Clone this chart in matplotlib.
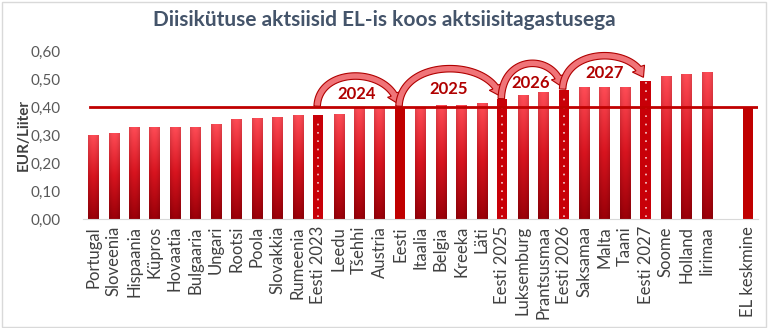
import numpy as np
import matplotlib
matplotlib.use("Agg")
import matplotlib.pyplot as plt
from matplotlib.patches import Polygon, Rectangle
from matplotlib.colors import LinearSegmentedColormap

plt.rcParams['font.family'] = ['Lato', 'DejaVu Sans']

countries = ["Portugal", "Sloveenia", "Hispaania", "Küpros", "Hovaatia", "Bulgaaria",
             "Ungari", "Rootsi", "Poola", "Slovakkia", "Rumeenia", "Eesti 2023",
             "Leedu", "Tšehhi", "Austria", "Eesti", "Itaalia", "Belgia", "Kreeka",
             "Läti", "Eesti 2025", "Luksemburg", "Prantsusmaa", "Eesti 2026",
             "Saksamaa", "Malta", "Taani", "Eesti 2027", "Soome", "Holland",
             "Iirimaa", "", "EL keskmine"]
values = [0.301, 0.307, 0.329, 0.329, 0.329, 0.330, 0.339, 0.358, 0.361, 0.366,
          0.370, 0.372, 0.374, 0.398, 0.398, 0.400, 0.400, 0.406, 0.409, 0.414,
          0.427, 0.442, 0.454, 0.461, 0.470, 0.473, 0.473, 0.494, 0.509, 0.519,
          0.526, np.nan, 0.397]
eu_average = 0.40

# Estonian rate steps: (from bar, to bar, label)
steps = [("Eesti 2023", "Eesti", "2024"),
         ("Eesti", "Eesti 2025", "2025"),
         ("Eesti 2025", "Eesti 2026", "2026"),
         ("Eesti 2026", "Eesti 2027", "2027")]
dotted = {"Eesti 2023", "Eesti 2025", "Eesti 2026", "Eesti 2027"}
solid = {"Eesti", "EL keskmine"}

fig = plt.figure(figsize=(7.68, 3.28), dpi=100)
ax = fig.add_axes([0.108, 0.332, 0.879, 0.5125])
ax.set_xlim(-0.5, len(countries) - 0.5)
ax.set_ylim(0, 0.6)

x = np.arange(len(countries))
width = 0.5
grad = LinearSegmentedColormap.from_list("bar", ["#9a0008", "#d8141f", "#ff4d57"])
gimg = np.linspace(0, 1, 256).reshape(-1, 1)
hshade = 1 - 0.12 * np.abs(np.linspace(-1, 1, 16)) ** 2

bars = ax.bar(x, values, width=width, color="none", edgecolor="none", zorder=2)
for xi, name, v, b in zip(x, countries, values, bars):
    if np.isnan(v):
        continue
    if name in dotted or name in solid:
        b.set_facecolor("#c80008" if name in dotted else "#c00000")
        if name in dotted:
            ax.plot([xi, xi], [0.008, v - 0.006], color="white", lw=1.2,
                    ls=(0, (1, 4)), alpha=0.8, zorder=3)
    else:
        rgb = grad(gimg)[:, 0, :3]
        img = rgb[:, None, :] * hshade[None, :, None]
        im = ax.imshow(img, origin="lower", aspect="auto",
                       extent=(xi - width / 2, xi + width / 2, 0, v), zorder=2,
                       interpolation="bilinear")
        im.set_clip_path(b)

ax.axhline(eu_average, xmin=0.01, xmax=1.0, color="#c00000", lw=2, zorder=4)


def curved_arrow(ax, p0, p3, top, tail_w=6.5, head_w=14, head_l=10, **kw):
    """Block arrow along a cubic arch from p0 to p3 (data coords)."""
    T = ax.transData
    (x0, y0), (x3, y3) = p0, p3
    dx = x3 - x0
    ctrl = np.array([[x0, y0], [x0 + 0.02 * dx, top], [x3 - 0.12 * dx, top], [x3, y3]])
    P = T.transform(ctrl)
    t = np.linspace(0, 1, 300)[:, None]
    B = ((1 - t) ** 3) * P[0] + 3 * (1 - t) ** 2 * t * P[1] \
        + 3 * (1 - t) * t ** 2 * P[2] + t ** 3 * P[3]
    seg = np.hypot(*np.diff(B, axis=0).T)
    s = np.concatenate([[0], np.cumsum(seg)])
    C = B[s <= s[-1] - head_l]
    d = np.gradient(C, axis=0)
    d /= np.hypot(d[:, 0], d[:, 1])[:, None]
    n = np.stack([-d[:, 1], d[:, 0]], axis=1)
    left, right = C + n * tail_w / 2, C - n * tail_w / 2
    tip = B[-1]
    u = (tip - C[-1]) / np.hypot(*(tip - C[-1]))
    nb = np.array([-u[1], u[0]])
    head = np.array([C[-1] + nb * head_w / 2, tip, C[-1] - nb * head_w / 2])
    poly = np.vstack([left, head, right[::-1]])
    ax.add_patch(Polygon(T.inverted().transform(poly), closed=True,
                         clip_on=False, **kw))


idx = {n: i for i, n in enumerate(countries)}
arc_top = {"2024": 0.545, "2025": 0.575, "2026": 0.59, "2027": 0.615}
label_pos = {"2024": (12.9, 0.447), "2025": (17.4, 0.463),
             "2026": (21.4, 0.487), "2027": (25.0, 0.522)}
for a, bname, lab in steps:
    i0, i1 = idx[a], idx[bname]
    y0 = max(values[i0], eu_average) + 0.003
    y1 = values[i1] + 0.012
    curved_arrow(ax, (i0 - 0.05, y0), (i1 - 0.1, y1), arc_top[lab],
                 facecolor="#f07478", edgecolor="#b00000", lw=0.8, zorder=6)
    lx, ly = label_pos[lab]
    ax.text(lx, ly, lab, ha="center", va="center", fontsize=12,
            fontweight="bold", color="#b00000", zorder=7)

ax.set_yticks(np.arange(0, 0.61, 0.1))
ax.set_yticklabels([f"{t:.2f}".replace(".", ",") for t in np.arange(0, 0.61, 0.1)],
                   fontsize=11, color="#595959")
ax.set_xticks(x)
ax.set_xticklabels(countries, rotation=90, fontsize=12, color="#404040")
ax.tick_params(axis="x", length=0, pad=5)
ax.tick_params(axis="y", length=0, pad=16)
for s in ["top", "right", "left"]:
    ax.spines[s].set_visible(False)
ax.spines["bottom"].set_color("#d9d9d9")
ax.set_ylabel("EUR/Liiter", fontsize=11, fontweight="bold", color="#404040")
ax.yaxis.set_label_coords(-0.078, 0.5)

fig.text(0.5, 0.938, "Diisikütuse aktsiisid EL-is koos aktsiisitagastusega",
         ha="center", va="center", fontsize=15, fontweight="bold", color="#44546a")

fig.patches.append(Rectangle((0.002, 0.004), 0.995, 0.99, transform=fig.transFigure,
                             fill=False, edgecolor="#d9d9d9", lw=1))

fig.savefig("out.png", dpi=100)
